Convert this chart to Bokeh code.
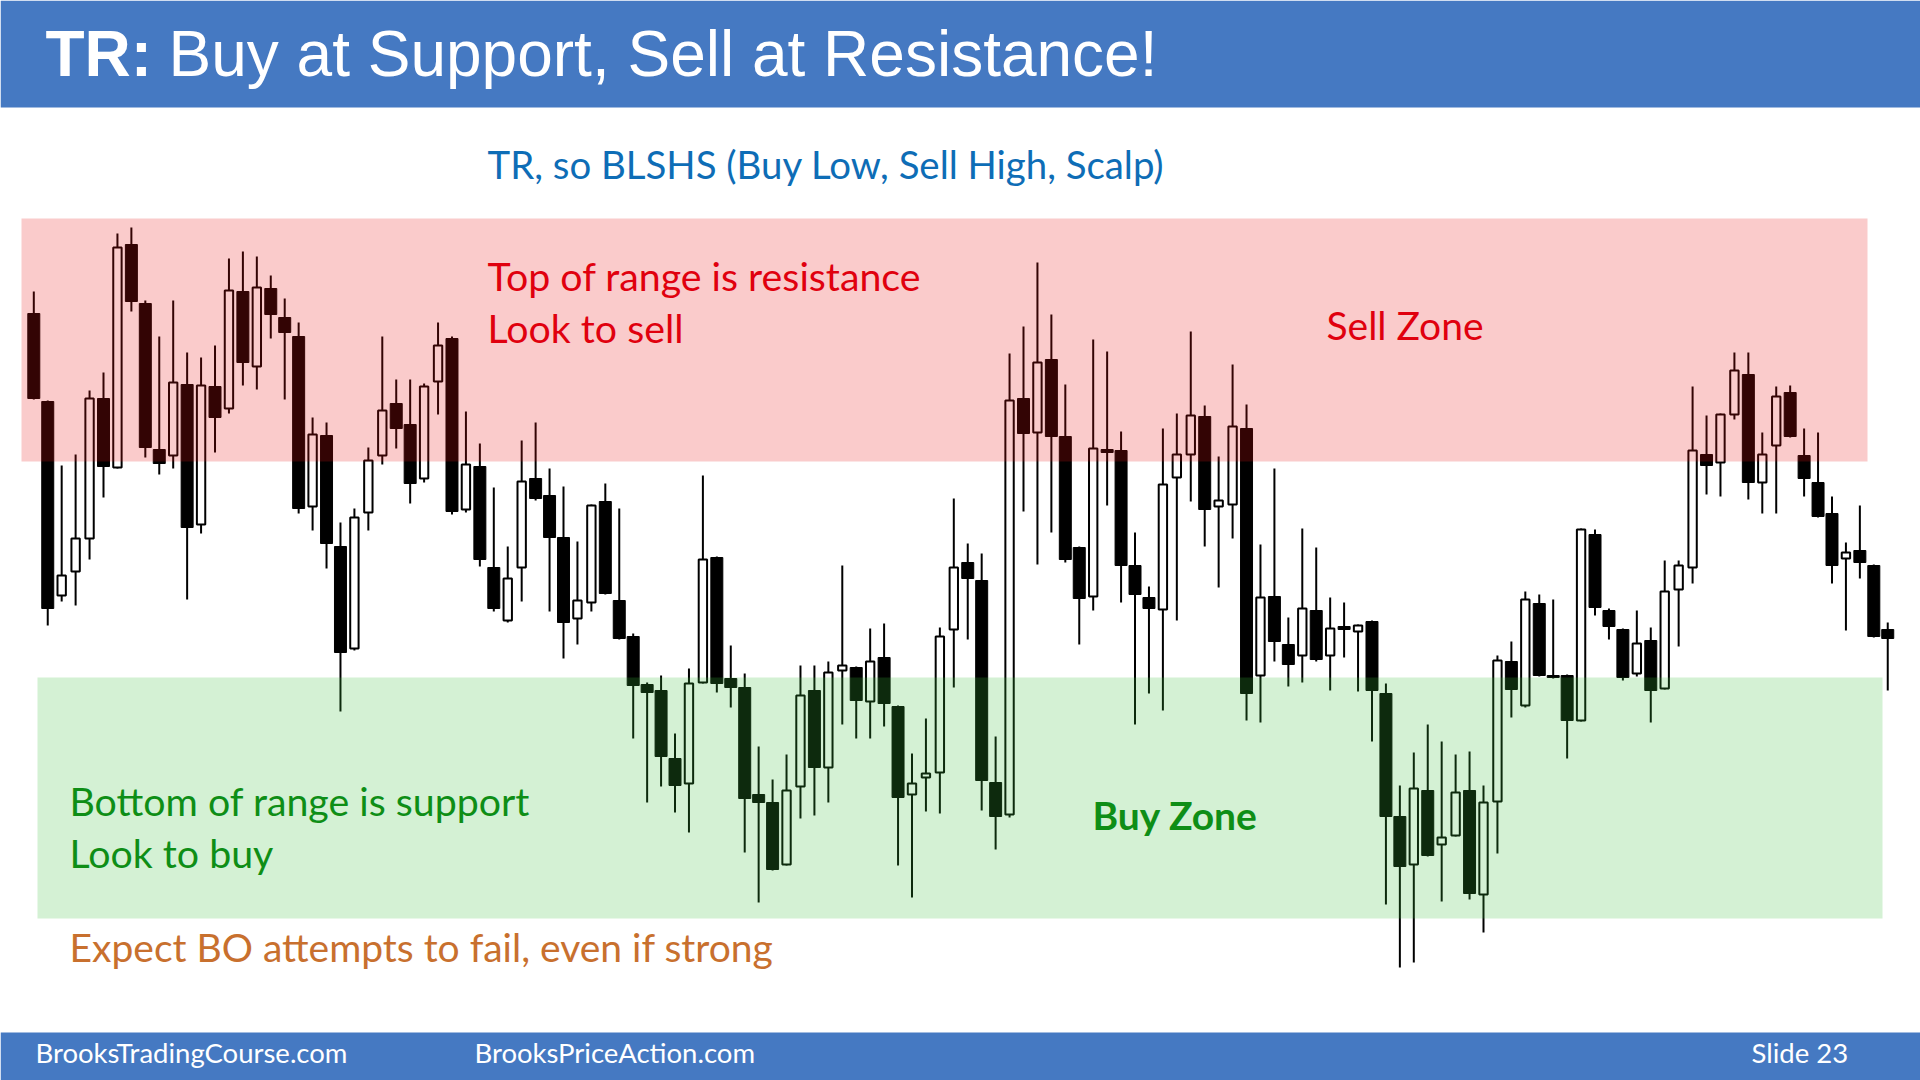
from bokeh.plotting import figure
from bokeh.models import Range1d, ColumnDataSource
from bokeh.core.properties import value
from bokeh.embed import file_html
from bokeh.resources import INLINE

# ---------------- data (price units) ----------------
opens = [687, 599, 405, 429, 462, 602, 533, 756, 697, 551,
         545, 616, 476, 614, 592, 709, 634, 712, 683, 664,
         494, 565, 454, 352, 488, 545, 597, 576, 522, 619,
         662, 491, 534, 433, 380, 433, 522, 505, 463, 382,
         398, 499, 400, 364, 316, 310, 242, 217, 318, 443,
         322, 313, 206, 198, 136, 214, 310, 233, 330, 333,
         299, 343, 294, 206, 223, 228, 371, 438, 420, 218,
         186, 602, 568, 641, 564, 453, 404, 551, 550, 435,
         403, 391, 523, 546, 584, 494, 496, 572, 325, 404,
         356, 345, 390, 345, 374, 369, 379, 307, 184, 136,
         210, 156, 165, 210, 106, 199, 339, 295, 397, 325,
         325, 280, 466, 390, 371, 327, 360, 312, 411, 433,
         546, 538, 586, 626, 518, 555, 608, 545, 518, 487,
         442, 450, 435, 371]
highs = [709, 600, 535, 546, 610, 628, 767, 773, 700, 664,
         700, 648, 643, 655, 742, 749, 744, 725, 702, 678,
         583, 578, 478, 492, 553, 664, 621, 621, 617, 678,
         664, 589, 557, 513, 454, 560, 578, 532, 514, 459,
         496, 517, 492, 367, 318, 325, 267, 332, 525, 444,
         355, 327, 254, 221, 246, 335, 335, 339, 435, 334,
         372, 377, 295, 247, 282, 373, 502, 457, 447, 264,
         647, 674, 738, 686, 616, 454, 661, 649, 569, 468,
         414, 572, 587, 669, 595, 544, 636, 596, 456, 532,
         383, 472, 453, 403, 398, 376, 380, 317, 215, 248,
         276, 259, 246, 249, 215, 345, 359, 409, 406, 401,
         326, 472, 471, 392, 372, 390, 373, 440, 440, 614,
         585, 587, 648, 648, 568, 614, 615, 572, 568, 504,
         458, 495, 436, 378]
lows = [601, 375, 399, 395, 441, 503, 532, 689, 543, 526,
        532, 401, 467, 548, 587, 615, 611, 662, 601, 487,
        470, 432, 289, 350, 470, 536, 552, 497, 518, 586,
        486, 488, 434, 389, 378, 399, 500, 389, 342, 356,
        389, 406, 361, 262, 198, 214, 188, 168, 317, 308,
        293, 148, 98, 130, 135, 182, 185, 198, 276, 262,
        262, 274, 135, 103, 189, 187, 313, 361, 190, 151,
        183, 489, 436, 468, 438, 356, 390, 495, 398, 276,
        307, 290, 380, 499, 454, 413, 462, 280, 278, 339,
        314, 318, 339, 310, 343, 309, 259, 96, 33, 38,
        144, 99, 164, 101, 68, 147, 283, 293, 324, 322,
        242, 279, 385, 361, 320, 324, 278, 311, 354, 417,
        506, 504, 581, 501, 487, 487, 563, 504, 483, 417,
        370, 422, 363, 310]
closes = [602, 392, 425, 462, 602, 534, 753, 699, 553, 537,
          618, 473, 615, 583, 710, 638, 713, 686, 668, 492,
          566, 457, 348, 483, 540, 590, 572, 517, 614, 655,
          489, 536, 441, 392, 422, 519, 502, 463, 378, 400,
          495, 407, 362, 315, 308, 244, 215, 317, 441, 317,
          313, 202, 198, 131, 210, 305, 233, 328, 335, 300,
          339, 297, 203, 217, 227, 364, 433, 422, 220, 184,
          600, 567, 638, 564, 441, 402, 552, 548, 435, 406,
          392, 516, 546, 585, 491, 500, 574, 307, 403, 359,
          336, 392, 341, 372, 371, 375, 310, 184, 134, 212,
          145, 163, 208, 107, 198, 340, 311, 401, 325, 323,
          280, 471, 393, 374, 323, 357, 310, 409, 435, 550,
          535, 586, 630, 518, 546, 604, 564, 522, 484, 435,
          448, 438, 364, 362]

resistance_zone = (539, 782)   # sell zone, price units
support_zone = (82, 323)       # buy zone, price units

title_bold = "TR:"
title_rest = "Buy at Support, Sell at Resistance!"
subtitle = "TR, so BLSHS (Buy Low, Sell High, Scalp)"
resistance_lines = ["Top of range is resistance", "Look to sell"]
support_lines = ["Bottom of range is support", "Look to buy"]
sell_zone_label = "Sell Zone"
buy_zone_label = "Buy Zone"
bo_note = "Expect BO attempts to fail, even if strong"
footer_texts = ["BrooksTradingCourse.com", "BrooksPriceAction.com", "Slide  23"]

# ---------------- style ----------------
BLUE = "#4579C2"
SUB_BLUE = "#0E6DB6"
RED_TXT = "#E0000E"
GREEN_TXT = "#0E8E16"
ORANGE_TXT = "#C8702E"
BODY_FONT = "Lato"
TITLE_FONT = "Liberation Sans"

W, H = 1920, 1080
p = figure(width=W, height=H, output_backend="svg", toolbar_location=None,
           x_axis_location=None, y_axis_location=None, title_location=None,
           tools="", min_border=0,
           x_range=Range1d(-2.389, 135.35), y_range=Range1d(-80, 1000))
p.extra_x_ranges = {"sx": Range1d(0, W)}
p.extra_y_ranges = {"sy": Range1d(H, 0)}
p.outline_line_color = None
p.background_fill_color = "white"
p.border_fill_color = "white"
p.grid.visible = False

# header and footer bars
p.quad(left=[0], right=[W], top=[0], bottom=[107], x_range_name="sx", y_range_name="sy",
       fill_color=BLUE, line_color=None)
p.quad(left=[0], right=[W], top=[1032], bottom=[H], x_range_name="sx", y_range_name="sy",
       fill_color=BLUE, line_color=None)

# candles
idx = list(range(len(opens)))
bull = [i for i in idx if closes[i] > opens[i]]
bear = [i for i in idx if closes[i] <= opens[i]]
p.segment(x0=idx, y0=lows, x1=idx, y1=highs, line_color="black", line_width=2)
bear_src = ColumnDataSource(dict(x=bear, top=[opens[i] for i in bear], bottom=[closes[i] for i in bear]))
bull_src = ColumnDataSource(dict(x=bull, top=[closes[i] for i in bull], bottom=[opens[i] for i in bull]))
p.vbar(x="x", width=0.86, top="top", bottom="bottom", source=bear_src,
       fill_color="black", line_color="black", line_width=1)
p.vbar(x="x", width=0.6, top="top", bottom="bottom", source=bull_src,
       fill_color="white", line_color="black", line_width=2)

# zone overlays (semi-transparent, above the candles)
p.quad(left=[21], right=[1867], bottom=[resistance_zone[0]], top=[resistance_zone[1]],
       x_range_name="sx", fill_color=(230, 20, 20), fill_alpha=0.22, line_color=None)
p.quad(left=[37], right=[1882], bottom=[support_zone[0]], top=[support_zone[1]],
       x_range_name="sx", fill_color=(60, 190, 60), fill_alpha=0.22, line_color=None)


def txt(x, y, s, color, size, font=BODY_FONT, style="normal"):
    p.text(x=[x], y=[y], text=[s], x_range_name="sx", y_range_name="sy",
           text_font=value(font), text_font_size=value(f"{size}px"), text_font_style=style,
           text_color=color, text_baseline="alphabetic", text_align="left")


# title
txt(45, 53, title_bold, "white", 64, TITLE_FONT, "bold")
txt(168, 53, title_rest, "white", 64, TITLE_FONT)
# subtitle
txt(487, 163, subtitle, SUB_BLUE, 38.4)
# resistance notes
txt(487, 275, resistance_lines[0], RED_TXT, 39.3)
txt(487, 326.5, resistance_lines[1], RED_TXT, 39.3)
txt(1326, 324, sell_zone_label, RED_TXT, 39)
# support notes
txt(69, 800, support_lines[0], GREEN_TXT, 39.3)
txt(69, 851.5, support_lines[1], GREEN_TXT, 39.3)
txt(1092, 814, buy_zone_label, GREEN_TXT, 39, style="bold")
txt(69, 946.5, bo_note, ORANGE_TXT, 39)
# footer
txt(35, 1052, footer_texts[0], "white", 27.5)
txt(474, 1052, footer_texts[1], "white", 27.5)
txt(1751, 1052, footer_texts[2], "white", 27.5)

open("out.html", "w").write(file_html(p, INLINE))
